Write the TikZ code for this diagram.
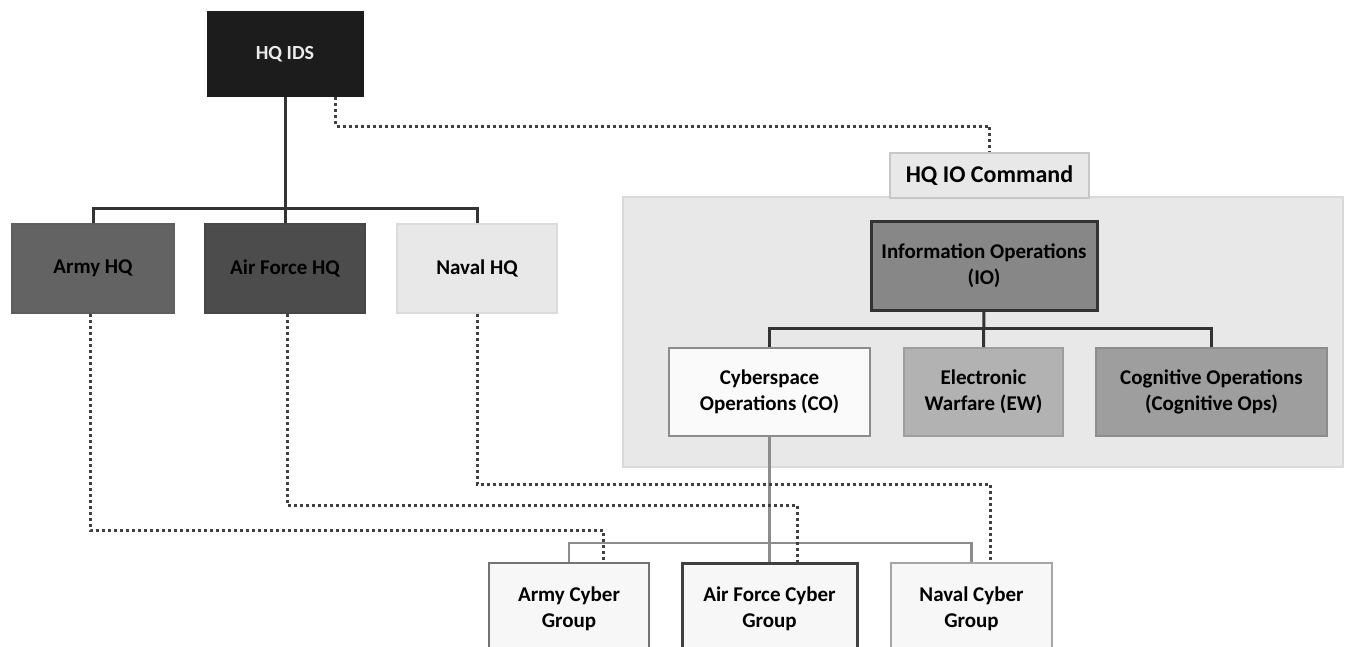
\documentclass[tikz,border=0pt]{standalone}
\usepackage{fontspec}
\setmainfont{Carlito}
\begin{document}
\begin{tikzpicture}[x=1pt,y=-1pt,
  box/.style={rectangle,draw,line width=2pt,align=center,inner sep=2pt,
    font=\fontsize{21}{26}\selectfont\bfseries,text=black},
  solidline/.style={draw=black!80,line width=3pt},
  graylink/.style={draw=black!45,line width=2.5pt},
  dotline/.style={draw=black!75,line width=3pt,dash pattern=on 3pt off 3pt},
]
\useasboundingbox (0,0) rectangle (1350,646);
\clip (0,0) rectangle (1350,646);
\fill[white] (0,0) rectangle (1350,646);

% panel
\node[rectangle,draw=black!15,fill=black!9,line width=1.5pt,minimum width=720pt,minimum height=270pt,inner sep=0pt] (panel) at (983,332) {};

% top level
\node[box,fill=black!89,draw=black!89,text=black!8,minimum width=155pt,minimum height=84pt,font=\fontsize{20}{24}\selectfont\bfseries] (hqids) at (285,54) {HQ IDS};
\node[box,fill=black!61,draw=black!63,minimum width=162pt,minimum height=89pt] (army) at (93,268.5) {Army HQ};
\node[box,fill=black!70,draw=black!72,minimum width=160pt,minimum height=89pt] (af) at (285,268.5) {Air Force HQ};
\node[box,fill=black!9,draw=black!14,minimum width=160pt,minimum height=89pt] (naval) at (477,268.5) {Naval HQ};

% IO command
\node[box,fill=black!9,draw=black!22,minimum width=199pt,minimum height=45pt,font=\fontsize{24}{28}\selectfont\bfseries] (ioc) at (989.5,175.5) {HQ IO Command};
\node[box,fill=black!47,draw=black!80,line width=3pt,minimum width=226pt,minimum height=89pt] (io) at (984,265.5) {Information Operations\\(IO)};
\node[box,fill=black!2,draw=black!45,line width=2.5pt,minimum width=201pt,minimum height=88pt] (co) at (769.5,392) {Cyberspace\\Operations (CO)};
\node[box,fill=black!30,draw=black!38,minimum width=159pt,minimum height=88pt] (ew) at (983.5,392) {Electronic\\Warfare (EW)};
\node[box,fill=black!38,draw=black!45,minimum width=231pt,minimum height=88pt] (cog) at (1211.5,392) {Cognitive Operations\\(Cognitive Ops)};

% cyber groups
\node[box,fill=black!3,draw=black!55,minimum width=160pt,minimum height=92pt] (acg) at (569,609) {Army Cyber\\Group};
\node[box,fill=black!3,draw=black!75,line width=3pt,minimum width=175pt,minimum height=92pt] (afcg) at (769.5,609) {Air Force Cyber\\Group};
\node[box,fill=black!3,draw=black!35,minimum width=161pt,minimum height=92pt] (ncg) at (971.5,609) {Naval Cyber\\Group};

% solid connectors
\coordinate (bartop) at (285,208);
\draw[solidline] (hqids.south) -- (af.north);
\draw[solidline] (army.north) -- (army.north |- bartop) -| (naval.north);
\draw[solidline] (io.south) -- (ew.north);
\draw[solidline] (co.north) -- ++(0,-18) -| (cog.north);
\draw[graylink] (co.south) -- (afcg.north);
\draw[graylink] (acg.north) -- ++(0,-19) -| (ncg.north);

% dotted connectors
\draw[dotline] ([xshift=-28pt]hqids.south east) -- ++(0,29) -| (ioc.north);
\draw[dotline] ([xshift=-3pt]army.south) -- ++(0,216) -| ([xshift=34pt]acg.north);
\draw[dotline] ([xshift=2pt]af.south) -- ++(0,191) -| ([xshift=28pt]afcg.north);
\draw[dotline] (naval.south) -- ++(0,170) -| ([xshift=18.5pt]ncg.north);
\end{tikzpicture}
\end{document}
